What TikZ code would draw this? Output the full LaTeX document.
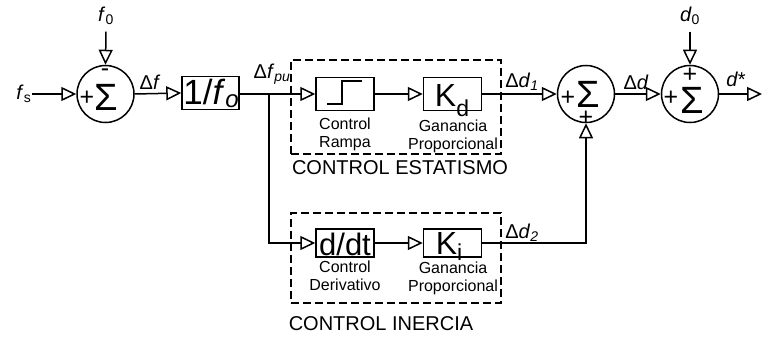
\documentclass[tikz,border=0pt]{standalone}
\usepackage{fontspec}
\setmainfont{Liberation Sans}
\usetikzlibrary{arrows.meta}
\begin{document}
\begin{tikzpicture}[x=1pt,y=-1pt,
  line width=1.5pt,
  tri/.style={-{Triangle[open,length=15pt,width=14pt,line width=1.5pt]}},
  blk/.style={draw,minimum width=58pt,minimum height=33pt,inner sep=0pt},
  blks/.style={draw,minimum width=58pt,minimum height=28pt,inner sep=0pt},
  sumc/.style={draw,circle,minimum size=57pt,inner sep=0pt},
  lbl/.style={font=\fontsize{20}{22}\selectfont,inner sep=0pt},
  capt/.style={font=\fontsize{16}{18}\selectfont,align=center,inner sep=0pt,anchor=north},
  ttl/.style={font=\fontsize{20}{22}\selectfont,inner sep=0pt},
  bigt/.style={font=\fontsize{35}{35}\selectfont,inner sep=0pt,anchor=base},
  sig/.style={font=\fontsize{38}{38}\selectfont,inner sep=0pt},
  sgn/.style={font=\fontsize{25}{25}\selectfont,inner sep=0pt},
  dbox/.style={draw,dash pattern=on 8pt off 4pt,line width=1.3pt,inner sep=0pt}
]
\useasboundingbox (0,0) rectangle (762,337);

% dashed groups
\node[dbox,minimum width=210pt,minimum height=94pt] (g1) at (396,107) {};
\node[dbox,minimum width=210pt,minimum height=90pt] (g2) at (396,258) {};
\node[ttl] (t1) at (400,168) {CONTROL ESTATISMO};
\node[ttl] (t2) at (381,324) {CONTROL INERCIA};

% summing junction 1
\node[anchor=east,lbl] (fs) at (32,94) {\textit{f}\textsubscript{s}};
\node[lbl] (f0) at (106,16) {\textit{f}\textsubscript{0}};
\node[sumc] (s1) at (105.5,94) {};
\node[sig] (s1g) at (106,97) {Σ};
\node[sgn] (s1m) at (105,73) {-};
\node[sgn] (s1p) at (87,98) {+};

% gain 1/fo
\node[blk,minimum width=57pt] (b1) at (210.5,93) {};
\node[bigt] (b1t) at (211,104) {1/\textit{f}\raisebox{-3pt}{\fontsize{24}{24}\selectfont\textit{o}}};

\coordinate (br) at (269,94);

% ramp
\node[blk] (rp) at (345,94) {};
\draw[line width=1.5pt] (327,104) -- (342,104) -- (342,81) -- (362,81);
\node[capt] (rpc) at (345,117) {Control\\Rampa};

% Kd
\node[blk] (kd) at (452.5,94) {};
\node[bigt,font=\fontsize{32}{32}\selectfont] (kdt) at (452,106) {K\smash{\raisebox{-10pt}{\fontsize{23}{23}\selectfont d}}};
\node[capt] (kdc) at (453,119) {Ganancia\\Proporcional};

% d/dt
\node[blks] (dd) at (345,243) {};
\node[bigt,font=\fontsize{31}{31}\selectfont] (ddt) at (345,255) {d/dt};
\node[capt] (ddc) at (345,260) {Control\\Derivativo};

% Ki
\node[blks] (ki) at (452.5,243) {};
\node[bigt,font=\fontsize{32}{32}\selectfont] (kit) at (449,254) {K\smash{\raisebox{-6pt}{\fontsize{23}{23}\selectfont i}}};
\node[capt] (kic) at (453,261) {Ganancia\\Proporcional};

% sum 2
\node[sumc] (s2) at (586,94) {};
\node[sig] (s2g) at (588,94) {Σ};
\node[sgn] (s2p) at (568,98) {+};
\node[sgn] (s2b) at (586,118) {+};

% sum 3
\node[lbl] (d0) at (690,16) {\textit{d}\textsubscript{0}};
\node[sumc] (s3) at (690,94) {};
\node[sig] (s3g) at (692,100) {Σ};
\node[sgn] (s3p) at (671,98) {+};
\node[sgn] (s3t) at (690,75) {+};
\coordinate (out) at (762,94);

% labels on lines
\node[lbl] (l1) at (150,82) {Δ\textit{f}};
\node[lbl] (l2) at (272,74) {Δ\textit{f}\textsubscript{\textit{pu}}};
\node[lbl] (l3) at (522,82) {Δ\textit{d}\textsubscript{\textit{1}}};
\node[lbl] (l4) at (522,233) {Δ\textit{d}\textsubscript{\textit{2}}};
\node[lbl] (l5) at (636,82) {Δ\textit{d}};
\node[lbl] (l6) at (736,79) {\textit{d}*};

% connectors
\draw[tri] (fs.east) -- (s1.west);
\draw[tri] (f0.south) ++(0,6) -- (s1.north);
\draw[tri] (s1.east) -- (b1.west);
\draw[tri] (b1.east |- br) -- (rp.west);
\draw[tri] (br) |- (dd.west);
\draw[tri] (rp.east) -- (kd.west);
\draw[tri] (kd.east) -- (s2.west);
\draw[tri] (dd.east) -- (ki.west);
\draw[tri] (ki.east) -| (s2.south);
\draw[tri] (s2.east) -- (s3.west);
\draw[tri] (d0.south) ++(0,6) -- (s3.north);
\draw[tri] (s3.east) -- (out);
\end{tikzpicture}
\end{document}
